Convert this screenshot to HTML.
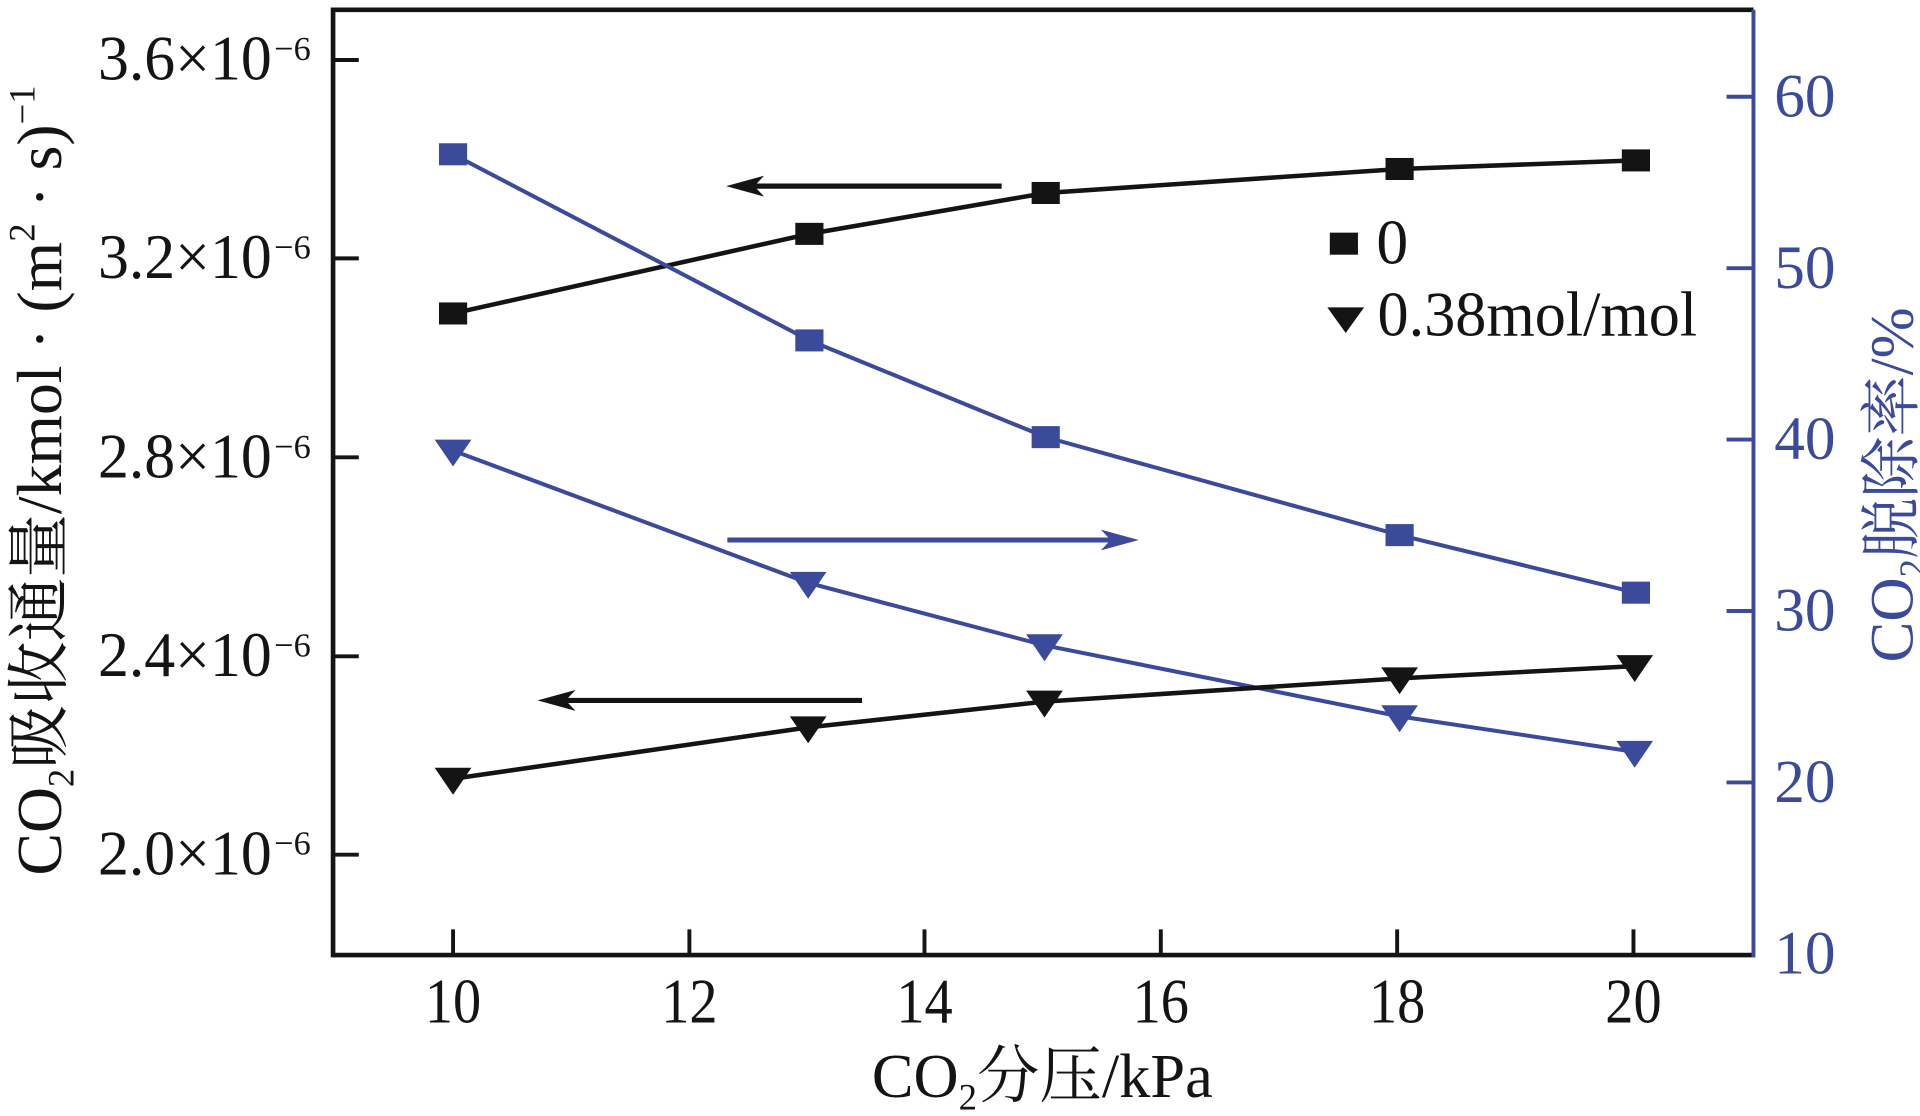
<!DOCTYPE html>
<html>
<head>
<meta charset="utf-8">
<style>
  html,body{margin:0;padding:0;background:#fff;}
  svg{display:block;}
  text{font-family:"Liberation Serif","Noto Serif CJK SC","Noto Sans CJK SC",serif;}
</style>
</head>
<body>
<svg width="1920" height="1116" viewBox="0 0 1568 911.4" preserveAspectRatio="none" xmlns="http://www.w3.org/2000/svg">
  <rect x="0" y="0" width="1568" height="911.4" fill="#fff"/>

  <!-- frame -->
  <line x1="272" y1="8" x2="1432" y2="8" stroke="#141414" stroke-width="3.8"/>
  <line x1="272" y1="780" x2="1432" y2="780" stroke="#141414" stroke-width="3.8"/>
  <line x1="272" y1="6.1" x2="272" y2="781.9" stroke="#141414" stroke-width="3.8"/>
  <line x1="1432" y1="8" x2="1432" y2="781.9" stroke="#3b4a9b" stroke-width="3.2"/>

  <!-- left ticks -->
  <g stroke="#141414" stroke-width="3.2">
    <line x1="272" y1="49" x2="293" y2="49"/>
    <line x1="272" y1="211" x2="293" y2="211"/>
    <line x1="272" y1="373.5" x2="293" y2="373.5"/>
    <line x1="272" y1="536" x2="293" y2="536"/>
    <line x1="272" y1="698" x2="293" y2="698"/>
  </g>
  <!-- bottom ticks -->
  <g stroke="#141414" stroke-width="3.2">
    <line x1="370" y1="780" x2="370" y2="759"/>
    <line x1="563" y1="780" x2="563" y2="759"/>
    <line x1="755" y1="780" x2="755" y2="759"/>
    <line x1="948" y1="780" x2="948" y2="759"/>
    <line x1="1141" y1="780" x2="1141" y2="759"/>
    <line x1="1334" y1="780" x2="1334" y2="759"/>
  </g>
  <!-- right ticks -->
  <g stroke="#3b4a9b" stroke-width="3.2">
    <line x1="1432" y1="79" x2="1410" y2="79"/>
    <line x1="1432" y1="219" x2="1410" y2="219"/>
    <line x1="1432" y1="359" x2="1410" y2="359"/>
    <line x1="1432" y1="499" x2="1410" y2="499"/>
    <line x1="1432" y1="639" x2="1410" y2="639"/>
  </g>

  <!-- left tick labels -->
  <g fill="#141414" font-size="52">
    <text x="80" y="65" textLength="142" lengthAdjust="spacingAndGlyphs">3.6×10</text>
    <text x="224" y="49" font-size="28">−6</text>
    <text x="80" y="227" textLength="142" lengthAdjust="spacingAndGlyphs">3.2×10</text>
    <text x="224" y="211" font-size="28">−6</text>
    <text x="80" y="390" textLength="142" lengthAdjust="spacingAndGlyphs">2.8×10</text>
    <text x="224" y="374" font-size="28">−6</text>
    <text x="80" y="552" textLength="142" lengthAdjust="spacingAndGlyphs">2.4×10</text>
    <text x="224" y="536" font-size="28">−6</text>
    <text x="80" y="714" textLength="142" lengthAdjust="spacingAndGlyphs">2.0×10</text>
    <text x="224" y="698" font-size="28">−6</text>
  </g>

  <!-- bottom tick labels -->
  <g fill="#141414" font-size="52">
    <text x="347" y="835" textLength="46" lengthAdjust="spacingAndGlyphs">10</text>
    <text x="540" y="835" textLength="46" lengthAdjust="spacingAndGlyphs">12</text>
    <text x="732" y="835" textLength="46" lengthAdjust="spacingAndGlyphs">14</text>
    <text x="925" y="835" textLength="46" lengthAdjust="spacingAndGlyphs">16</text>
    <text x="1118" y="835" textLength="46" lengthAdjust="spacingAndGlyphs">18</text>
    <text x="1311" y="835" textLength="46" lengthAdjust="spacingAndGlyphs">20</text>
  </g>

  <!-- right tick labels -->
  <g fill="#3b4a9b" font-size="50">
    <text x="1449" y="95">60</text>
    <text x="1449" y="235">50</text>
    <text x="1449" y="375">40</text>
    <text x="1449" y="515">30</text>
    <text x="1449" y="655">20</text>
    <text x="1449" y="795">10</text>
  </g>

  <!-- x axis title -->
  <text x="712" y="896" font-size="51" fill="#141414">CO<tspan font-size="30" dy="10">2</tspan><tspan dy="-10">分压/kPa</tspan></text>

  <!-- left y axis title -->
  <text transform="translate(50,715) rotate(-90)" font-size="52" fill="#141414">CO<tspan font-size="30" dy="10">2</tspan><tspan dy="-10">吸收通量/kmol · (m</tspan><tspan font-size="30" dy="-22">2</tspan><tspan dy="22"> · s)</tspan><tspan font-size="30" dy="-22">−1</tspan></text>

  <!-- right y axis title -->
  <text transform="translate(1562,541) rotate(-90)" font-size="50" fill="#3b4a9b">CO<tspan font-size="30" dy="10">2</tspan><tspan dy="-10">脱除率/%</tspan></text>

  <!-- series lines -->
  <polyline points="370,256 661,191 854,157.6 1143,138 1336,131" fill="none" stroke="#141414" stroke-width="3.7"/>
  <polyline points="370,126 661,278 854,357 1143,437 1336,484" fill="none" stroke="#3b4a9b" stroke-width="3.3"/>
  <polyline points="370,368 660,476 853,527 1143,585 1335,614" fill="none" stroke="#3b4a9b" stroke-width="3.3"/>
  <polyline points="370,636 660,594 853,573 1143,554 1335,544" fill="none" stroke="#141414" stroke-width="3.7"/>

  <!-- black squares -->
  <g fill="#141414">
    <rect x="358.5" y="247" width="23" height="18"/>
    <rect x="649.5" y="182" width="23" height="18"/>
    <rect x="842.5" y="148.6" width="23" height="18"/>
    <rect x="1131.5" y="129" width="23" height="18"/>
    <rect x="1324.5" y="122" width="23" height="18"/>
  </g>
  <!-- blue squares -->
  <g fill="#3b4a9b">
    <rect x="358.5" y="117" width="23" height="18"/>
    <rect x="649.5" y="269" width="23" height="18"/>
    <rect x="842.5" y="348" width="23" height="18"/>
    <rect x="1131.5" y="428" width="23" height="18"/>
    <rect x="1324.5" y="475" width="23" height="18"/>
  </g>
  <!-- blue triangles -->
  <g fill="#3b4a9b">
    <polygon points="355,359 385,359 370,381"/>
    <polygon points="645,467 675,467 660,489"/>
    <polygon points="838,518 868,518 853,540"/>
    <polygon points="1128,576 1158,576 1143,598"/>
    <polygon points="1320,605 1350,605 1335,627"/>
  </g>
  <!-- black triangles -->
  <g fill="#141414">
    <polygon points="355,627 385,627 370,649"/>
    <polygon points="645,585 675,585 660,607"/>
    <polygon points="838,564 868,564 853,586"/>
    <polygon points="1128,545 1158,545 1143,567"/>
    <polygon points="1320,535 1350,535 1335,557"/>
  </g>

  <!-- arrows -->
  <line x1="612" y1="152" x2="818" y2="152" stroke="#141414" stroke-width="4.2"/>
  <polygon points="593,152 624,143.5 616,152 624,160.5" fill="#141414"/>

  <line x1="594" y1="441" x2="910" y2="441" stroke="#3b4a9b" stroke-width="4"/>
  <polygon points="930,441 899,432.5 907,441 899,449.5" fill="#3b4a9b"/>

  <line x1="458" y1="572" x2="704" y2="572" stroke="#141414" stroke-width="4.2"/>
  <polygon points="439,572 470,563.5 462,572 470,580.5" fill="#141414"/>

  <!-- legend -->
  <rect x="1086" y="190" width="23" height="18" fill="#141414"/>
  <text x="1124" y="215" font-size="52" fill="#141414">0</text>
  <polygon points="1084,251 1114,251 1099,272" fill="#141414"/>
  <text x="1125" y="274" font-size="52" fill="#141414" textLength="261" lengthAdjust="spacingAndGlyphs">0.38mol/mol</text>
</svg>
</body>
</html>
